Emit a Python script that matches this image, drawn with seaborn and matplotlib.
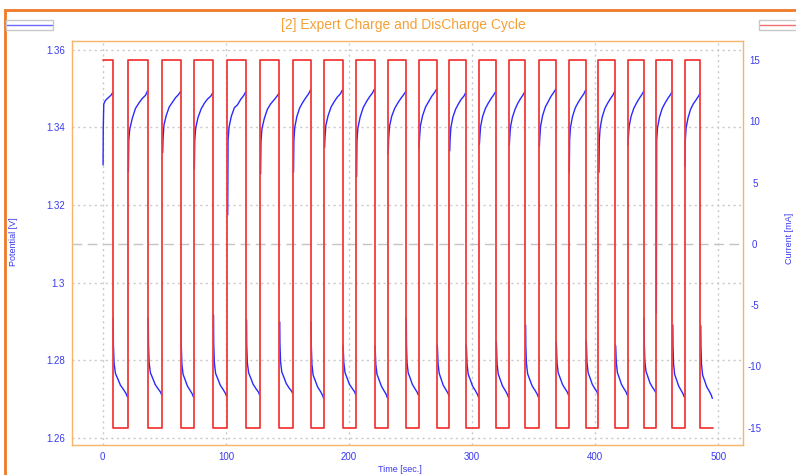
import matplotlib
matplotlib.use("Agg")
import matplotlib.pyplot as plt
import matplotlib.patches as mpatches
import matplotlib.lines as mlines
from matplotlib.ticker import FuncFormatter
import numpy as np
import pandas as pd
import seaborn as sns

# ---------------- data ----------------
switch_times = [0, 8.1, 20.3, 36.6, 48.2, 63.3, 73.9, 89.6, 101.0, 116.4, 127.7,
                143.4, 154.5, 168.9, 179.7, 194.8, 205.7, 220.8, 231.4, 246.2, 256.5,
                271.4, 281.4, 294.9, 305.5, 319.3, 329.8, 343.1, 354.2, 368.0, 378.5,
                392.4, 402.6, 416.2, 426.2, 439.4, 449.2, 462.7, 472.5, 485.4, 495.4]

current_mA = [15, -15, 15, -15, 15, -15, 15, -15, 15, -15,
              15, -15, 15, -15, 15, -15, 15, -15, 15, -15,
              15, -15, 15, -15, 15, -15, 15, -15, 15, -15,
              15, -15, 15, -15, 15, -15, 15, -15, 15, -15]

# relative position of potential samples inside each charge / discharge step
charge_frac = [0.03, 0.05, 0.10, 0.22, 0.38, 0.55, 0.72, 0.88, 0.99]
discharge_frac = [0.03, 0.045, 0.09, 0.18, 0.36, 0.51, 0.73, 0.89, 0.97]

charge_V = [
    [1.3303, 1.3400, 1.3460, 1.3467, 1.3472, 1.3476, 1.3480, 1.3484, 1.3490],
    [1.3284, 1.3367, 1.3395, 1.3422, 1.3448, 1.3462, 1.3474, 1.3482, 1.3494],
    [1.3335, 1.3370, 1.3406, 1.3430, 1.3452, 1.3464, 1.3476, 1.3484, 1.3492],
    [1.3292, 1.3365, 1.3398, 1.3425, 1.3447, 1.3462, 1.3473, 1.3480, 1.3489],
    [1.3174, 1.3368, 1.3400, 1.3428, 1.3450, 1.3458, 1.3472, 1.3482, 1.3492],
    [1.3280, 1.3362, 1.3396, 1.3422, 1.3446, 1.3460, 1.3470, 1.3480, 1.3488],
    [1.3284, 1.3366, 1.3400, 1.3428, 1.3450, 1.3464, 1.3476, 1.3486, 1.3496],
    [1.3348, 1.3372, 1.3405, 1.3430, 1.3452, 1.3466, 1.3478, 1.3486, 1.3496],
    [1.3273, 1.3365, 1.3398, 1.3426, 1.3450, 1.3465, 1.3478, 1.3488, 1.3498],
    [1.3331, 1.3368, 1.3402, 1.3428, 1.3448, 1.3462, 1.3474, 1.3484, 1.3492],
    [1.3348, 1.3370, 1.3404, 1.3430, 1.3452, 1.3466, 1.3480, 1.3490, 1.3499],
    [1.3339, 1.3368, 1.3400, 1.3426, 1.3446, 1.3460, 1.3472, 1.3480, 1.3489],
    [1.3356, 1.3372, 1.3402, 1.3428, 1.3448, 1.3462, 1.3474, 1.3484, 1.3492],
    [1.3354, 1.3370, 1.3400, 1.3426, 1.3446, 1.3462, 1.3474, 1.3484, 1.3492],
    [1.3351, 1.3370, 1.3402, 1.3430, 1.3452, 1.3466, 1.3480, 1.3490, 1.3498],
    [1.3284, 1.3368, 1.3400, 1.3428, 1.3450, 1.3464, 1.3476, 1.3486, 1.3496],
    [1.3284, 1.3366, 1.3398, 1.3426, 1.3448, 1.3462, 1.3474, 1.3484, 1.3494],
    [1.3354, 1.3372, 1.3402, 1.3428, 1.3448, 1.3462, 1.3474, 1.3484, 1.3492],
    [1.2921, 1.3365, 1.3398, 1.3426, 1.3448, 1.3462, 1.3474, 1.3484, 1.3492],
    [1.3299, 1.3366, 1.3398, 1.3424, 1.3446, 1.3460, 1.3470, 1.3480, 1.3488],
]

discharge_V = [
    [1.2908, 1.2839, 1.2792, 1.2766, 1.2750, 1.2736, 1.2724, 1.2714, 1.2706],
    [1.2908, 1.2840, 1.2794, 1.2768, 1.2752, 1.2738, 1.2726, 1.2718, 1.2711],
    [1.2904, 1.2838, 1.2790, 1.2764, 1.2748, 1.2734, 1.2722, 1.2713, 1.2706],
    [1.2917, 1.2842, 1.2794, 1.2766, 1.2750, 1.2736, 1.2724, 1.2714, 1.2706],
    [1.2904, 1.2840, 1.2794, 1.2768, 1.2752, 1.2738, 1.2726, 1.2718, 1.2711],
    [1.2899, 1.2842, 1.2796, 1.2770, 1.2754, 1.2740, 1.2728, 1.2721, 1.2715],
    [1.2899, 1.2838, 1.2790, 1.2762, 1.2746, 1.2732, 1.2720, 1.2710, 1.2702],
    [1.2839, 1.2832, 1.2794, 1.2768, 1.2752, 1.2738, 1.2727, 1.2719, 1.2712],
    [1.2837, 1.2830, 1.2790, 1.2764, 1.2748, 1.2734, 1.2721, 1.2712, 1.2704],
    [1.2908, 1.2840, 1.2794, 1.2768, 1.2752, 1.2738, 1.2726, 1.2718, 1.2711],
    [1.2839, 1.2832, 1.2793, 1.2767, 1.2750, 1.2736, 1.2724, 1.2716, 1.2709],
    [1.2839, 1.2831, 1.2791, 1.2764, 1.2748, 1.2734, 1.2722, 1.2712, 1.2705],
    [1.2848, 1.2836, 1.2792, 1.2765, 1.2748, 1.2734, 1.2722, 1.2712, 1.2705],
    [1.2891, 1.2838, 1.2792, 1.2765, 1.2748, 1.2734, 1.2722, 1.2712, 1.2705],
    [1.2848, 1.2836, 1.2794, 1.2768, 1.2752, 1.2738, 1.2726, 1.2718, 1.2711],
    [1.2850, 1.2837, 1.2794, 1.2768, 1.2752, 1.2738, 1.2726, 1.2718, 1.2711],
    [1.2839, 1.2832, 1.2794, 1.2768, 1.2752, 1.2738, 1.2726, 1.2718, 1.2711],
    [1.2908, 1.2842, 1.2798, 1.2772, 1.2756, 1.2742, 1.2730, 1.2723, 1.2718],
    [1.2891, 1.2838, 1.2792, 1.2764, 1.2748, 1.2734, 1.2722, 1.2713, 1.2706],
    [1.2889, 1.2836, 1.2790, 1.2762, 1.2746, 1.2732, 1.2720, 1.2710, 1.2702],
]

potential_ticks = [1.26, 1.28, 1.30, 1.32, 1.34, 1.36]
current_ticks = [-15, -10, -5, 0, 5, 10, 15]
time_ticks = [0, 100, 200, 300, 400, 500]

title_text = "[2] Expert Charge and DisCharge Cycle"
xlabel_text = "Time [sec.]"
ylabel_left = "Potential [V]"
ylabel_right = "Current [mA]"

# ---------------- build tables ----------------
rows = []
seg = 0
for i in range(20):
    t0, t1 = switch_times[2 * i], switch_times[2 * i + 1]
    for f, v in zip(charge_frac, charge_V[i]):
        rows.append((t0 + f * (t1 - t0), v, seg))
    seg += 1
    t0, t1 = switch_times[2 * i + 1], switch_times[2 * i + 2]
    for f, v in zip(discharge_frac, discharge_V[i]):
        rows.append((t0 + f * (t1 - t0), v, seg))
    seg += 1
pot_df = pd.DataFrame(rows, columns=["t", "V", "seg"])

ct, cv = [], []
for i, lvl in enumerate(current_mA):
    ct += [switch_times[i], switch_times[i + 1]]
    cv += [lvl, lvl]
cur_df = pd.DataFrame({"t": ct, "I": cv, "u": 0})

# ---------------- styling ----------------
sns.set_style("white")
plt.rcParams["font.family"] = ["Liberation Sans", "DejaVu Sans"]
plt.rcParams["axes.unicode_minus"] = False

BLUE_TXT = "#3a3af0"
BLUE = "#2a2aff"
RED = "#f23a3a"
ORANGE_BOX = "#f7b46a"
ORANGE_FRAME = "#f07a28"
GRID = "#c9c9c9"

W, H = 796, 475
fig = plt.figure(figsize=(W / 100, H / 100), dpi=100)
ax = fig.add_axes([72 / W, 1 - 445 / H, (743 - 72) / W, (445 - 41) / H])
ax2 = ax.twinx()

ax.set_xlim(-25, 520)
ax.set_ylim(1.2582, 1.3622)
ax2.set_ylim(-16.42, 16.55)

# grid
for yv in potential_ticks:
    ax.axhline(yv, color=GRID, lw=1.0, ls=(0, (1.5, 2.5)), zorder=0)
for xv in time_ticks:
    ax.axvline(xv, color=GRID, lw=1.0, ls=(0, (1.5, 2.5)), zorder=0)
ax2.axhline(0, color="#c4c4c4", lw=1.0, ls=(0, (7, 4)), zorder=0)

sns.lineplot(data=pot_df, x="t", y="V", units="seg", estimator=None, sort=False,
             color=BLUE, lw=1.0, ax=ax, legend=False)
sns.lineplot(data=cur_df, x="t", y="I", units="u", estimator=None, sort=False,
             color=RED, lw=1.3, ax=ax2, legend=False)

ax.set_xticks(time_ticks)
ax.set_yticks(potential_ticks)
ax.yaxis.set_major_formatter(FuncFormatter(lambda v, p: f"{v:g}"))
ax2.set_yticks(current_ticks)
ax2.yaxis.set_major_formatter(FuncFormatter(lambda v, p: f"{v:g}"))

ax.tick_params(axis="both", length=0, labelsize=7, labelcolor=BLUE_TXT)
ax.tick_params(axis="x", pad=5)
ax.tick_params(axis="y", pad=5)
ax2.tick_params(axis="y", length=0, labelsize=7, labelcolor=BLUE_TXT, pad=8.5)
for lab in ax2.get_yticklabels():
    lab.set_horizontalalignment("center")

ax.set_xlabel("")
ax.set_ylabel("")
ax2.set_ylabel("")
for sp in ax.spines.values():
    sp.set_color(ORANGE_BOX)
    sp.set_linewidth(1.0)
for sp in ax2.spines.values():
    sp.set_visible(False)

# texts
fig.text(403 / W, 1 - 25 / H, title_text, color="#f5a035", fontsize=10,
         ha="center", va="center")
fig.text(400 / W, 1 - 469 / H, xlabel_text, color=BLUE_TXT, fontsize=6.5,
         ha="center", va="center")
fig.text(13 / W, 1 - 242 / H, ylabel_left, color=BLUE_TXT, fontsize=6.5,
         ha="center", va="center", rotation=90)
fig.text(789 / W, 1 - 238 / H, ylabel_right, color=BLUE_TXT, fontsize=6.5,
         ha="center", va="center", rotation=90)

# outer orange frame (extends beyond the picture on the right and bottom)
fig.patches.append(mpatches.Rectangle((5 / W, -0.2), 1.5, 1.2 - 10 / H,
                                      transform=fig.transFigure, fill=False,
                                      edgecolor=ORANGE_FRAME, lw=2.0))

# legend chips
fig.patches.append(mpatches.Rectangle((6 / W, 1 - 30 / H), 47 / W, 10 / H,
                                      transform=fig.transFigure, facecolor="white",
                                      edgecolor="#c8c8c8", lw=1.0))
fig.lines.append(mlines.Line2D([7 / W, 52 / W], [1 - 25 / H, 1 - 25 / H],
                               transform=fig.transFigure, color="#6a6aff", lw=1.0))
fig.patches.append(mpatches.Rectangle((759 / W, 1 - 30 / H), 60 / W, 10 / H,
                                      transform=fig.transFigure, facecolor="white",
                                      edgecolor="#c8c8c8", lw=1.0))
fig.lines.append(mlines.Line2D([760 / W, 800 / W], [1 - 25 / H, 1 - 25 / H],
                               transform=fig.transFigure, color="#f07070", lw=1.0))

fig.savefig("out.png", dpi=100)
